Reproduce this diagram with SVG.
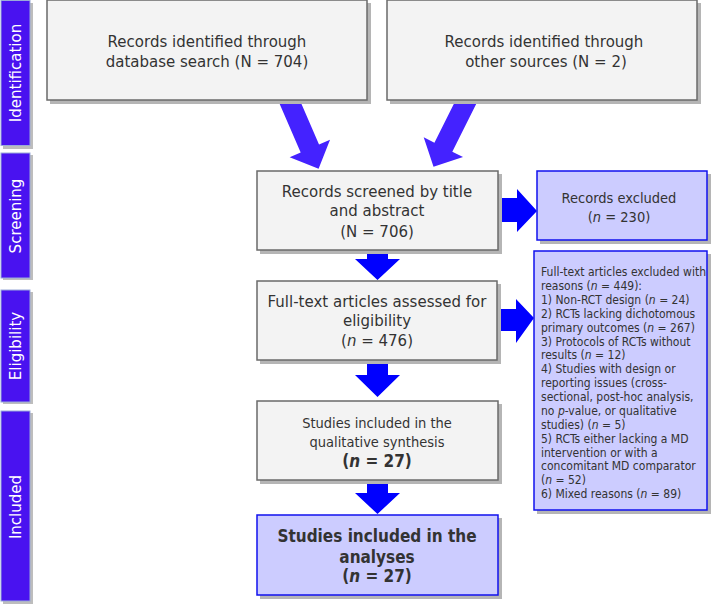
<svg xmlns="http://www.w3.org/2000/svg" width="711" height="604" viewBox="0 0 711 604">
<defs>
<style>
.bar{fill:#4912F0;stroke:#9AAAD8;stroke-width:1}
.barsh{fill:#BDBDBD}
.bt{fill:#FFFFFF;font-family:"DejaVu Sans",sans-serif;font-size:15px;text-anchor:middle}
.gbox{fill:#F3F3F3;stroke:#6A6A6A;stroke-width:1.5}
.lbox{fill:#CCCCFF;stroke:#1010EE;stroke-width:1.5}
.sh{fill:#B5B5B5}
.t{fill:#333333;font-family:"DejaVu Sans",sans-serif;text-anchor:middle}
.t15{font-size:15px}
.t14{font-family:"DejaVu Sans Condensed","DejaVu Sans",sans-serif;font-stretch:condensed;font-size:14.5px}
.t12{font-family:"DejaVu Sans Condensed","DejaVu Sans",sans-serif;font-stretch:condensed;font-size:12px;text-anchor:start}
.b{font-family:"DejaVu Sans Condensed","DejaVu Sans",sans-serif;font-stretch:condensed;font-weight:bold;font-size:17px}
.i{font-style:italic}
.ad{fill:#4422FF}
.ab{fill:#0000FF}
</style>
</defs>
<g id="phases">
<g id="phase-identification">
<rect class="barsh" x="3" y="3" width="30" height="146"/>
<rect class="bar" x="1" y="0.5" width="29" height="145"/>
<text class="bt" transform="translate(21,73) rotate(-90)">Identification</text>
</g>
<g id="phase-screening">
<rect class="barsh" x="3" y="155" width="30" height="125"/>
<rect class="bar" x="1" y="153" width="29" height="125"/>
<text class="bt" transform="translate(21,216) rotate(-90)">Screening</text>
</g>
<g id="phase-eligibility">
<rect class="barsh" x="3" y="292" width="30" height="112"/>
<rect class="bar" x="1" y="290" width="29" height="112"/>
<text class="bt" transform="translate(21,346) rotate(-90)">Eligibility</text>
</g>
<g id="phase-included">
<rect class="barsh" x="3" y="413" width="30" height="191"/>
<rect class="bar" x="1" y="411" width="29" height="190"/>
<text class="bt" transform="translate(21,507) rotate(-90)">Included</text>
</g>
</g>
<g id="connectors">
<path class="ad" transform="translate(288,98) rotate(-23.4)" d="M-10,0 L10,0 L10,55 L22,55 L0,77 L-22,55 L-10,55 Z"/>
<path class="ad" transform="translate(468,98) rotate(26.6)" d="M-10,0 L10,0 L10,55 L22,55 L0,77 L-22,55 L-10,55 Z"/>
<path class="ab" d="M498,198 L517,198 L517,189 L537,211 L517,232 L517,222 L498,222 Z"/>
<path class="ab" d="M497,309 L516,309 L516,299 L534,318 L516,343 L516,331 L497,331 Z"/>
<path class="ab" d="M367,250 L388,250 L388,259 L400,259 L377.5,280 L355,259 L367,259 Z"/>
<path class="ab" d="M367,360 L388,360 L388,375 L400,375 L377.5,397 L355,375 L367,375 Z"/>
<path class="ab" d="M367,480 L388,480 L388,493 L400,493 L377.5,514 L355,493 L367,493 Z"/>
</g>
<g id="node-database">
<rect class="sh" x="50" y="3" width="321" height="101"/>
<rect class="gbox" x="47" y="0" width="320" height="100"/>
<text class="t t15" x="207" y="47">Records identified through</text>
<text class="t t15" x="207" y="67">database search (N = 704)</text>
</g>
<g id="node-other">
<rect class="sh" x="390" y="3" width="311" height="101"/>
<rect class="gbox" x="387" y="0" width="310" height="100"/>
<text class="t t15" x="544" y="47">Records identified through</text>
<text class="t t15" x="546" y="67">other sources (N = 2)</text>
</g>
<g id="node-screened">
<rect class="sh" x="260" y="174" width="242" height="80"/>
<rect class="gbox" x="257" y="171" width="241" height="79"/>
<text class="t t15" x="377" y="197">Records screened by title</text>
<text class="t t15" x="377" y="216">and abstract</text>
<text class="t t15" x="377" y="237">(N = 706)</text>
</g>
<g id="node-excluded">
<rect class="sh" x="540" y="174" width="171" height="70"/>
<rect class="lbox" x="537" y="171" width="170" height="69"/>
<text class="t t14" x="619" y="203">Records excluded</text>
<text class="t t14" x="619" y="222">(<tspan class="i">n</tspan> = 230)</text>
</g>
<g id="node-fulltext">
<rect class="sh" x="260" y="284" width="241" height="80"/>
<rect class="gbox" x="257" y="281" width="240" height="79"/>
<text class="t t15" x="377" y="307">Full-text articles assessed for</text>
<text class="t t15" x="377" y="326">eligibility</text>
<text class="t t15" x="377" y="346">(<tspan class="i">n</tspan> = 476)</text>
</g>
<g id="node-fulltext-excluded">
<rect class="sh" x="537" y="254" width="174" height="260"/>
<rect class="lbox" x="534" y="251" width="173" height="259"/>
<text class="t t12" x="541" y="276">Full-text articles excluded with</text>
<text class="t t12" x="541" y="290">reasons (<tspan class="i">n</tspan> = 449):</text>
<text class="t t12" x="541" y="304">1) Non-RCT design (<tspan class="i">n</tspan> = 24)</text>
<text class="t t12" x="541" y="317.5">2) RCTs lacking dichotomous</text>
<text class="t t12" x="541" y="331.5">primary outcomes (<tspan class="i">n</tspan> = 267)</text>
<text class="t t12" x="541" y="345.5">3) Protocols of RCTs without</text>
<text class="t t12" x="541" y="359">results (<tspan class="i">n</tspan> = 12)</text>
<text class="t t12" x="541" y="373">4) Studies with design or</text>
<text class="t t12" x="541" y="387">reporting issues (cross-</text>
<text class="t t12" x="541" y="401">sectional, post-hoc analysis,</text>
<text class="t t12" x="541" y="415">no <tspan class="i">p</tspan>-value, or qualitative</text>
<text class="t t12" x="541" y="428.5">studies) (<tspan class="i">n</tspan> = 5)</text>
<text class="t t12" x="541" y="442.5">5) RCTs either lacking a MD</text>
<text class="t t12" x="541" y="456.5">intervention or with a</text>
<text class="t t12" x="541" y="470">concomitant MD comparator</text>
<text class="t t12" x="541" y="484">(<tspan class="i">n</tspan> = 52)</text>
<text class="t t12" x="541" y="498">6) Mixed reasons (<tspan class="i">n</tspan> = 89)</text>
</g>
<g id="node-qualitative">
<rect class="sh" x="260" y="404" width="242" height="80"/>
<rect class="gbox" x="257" y="401" width="241" height="79"/>
<text class="t t14" x="377" y="428">Studies included in the</text>
<text class="t t14" x="377" y="447">qualitative synthesis</text>
<text class="t b" x="377" y="467">(<tspan class="i">n</tspan> = 27)</text>
</g>
<g id="node-analyses">
<rect class="sh" x="260" y="518" width="242" height="81"/>
<rect class="lbox" x="257" y="515" width="241" height="80"/>
<text class="t b" x="377" y="542">Studies included in the</text>
<text class="t b" x="377" y="563">analyses</text>
<text class="t b" x="377" y="582">(<tspan class="i">n</tspan> = 27)</text>
</g>
</svg>
